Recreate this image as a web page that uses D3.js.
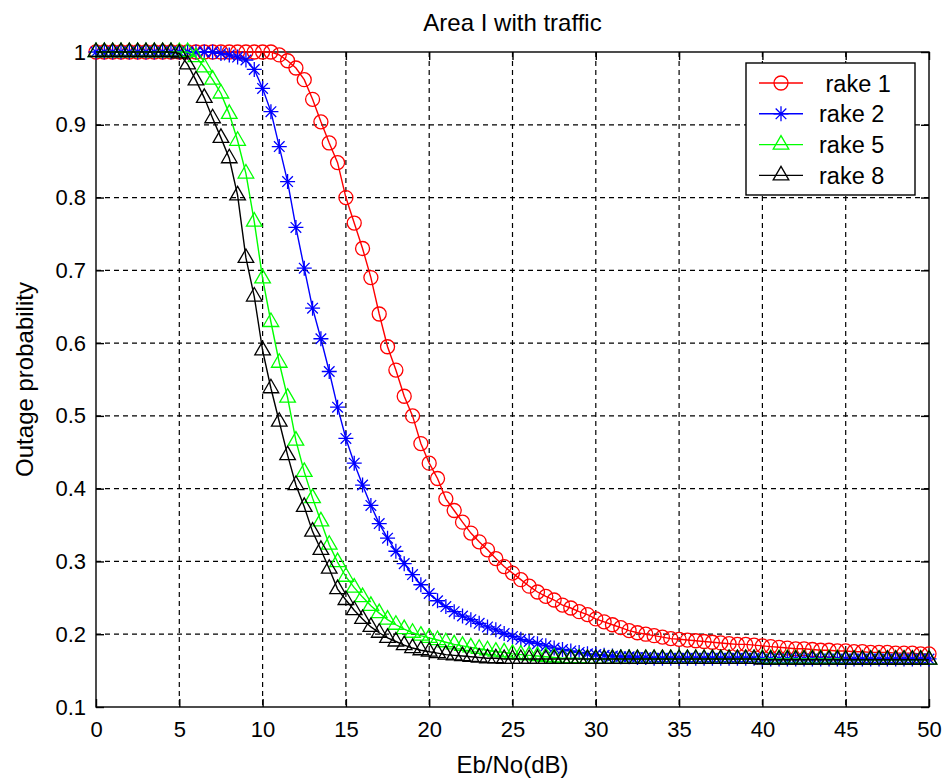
<!DOCTYPE html>
<html>
<head>
<meta charset="utf-8">
<script src="https://cdn.jsdelivr.net/npm/d3@7"></script>
<style>
  body { margin: 0; background: #fff; }
  svg text { font-family: "Liberation Sans", Arial, sans-serif; fill: #000; }
</style>
</head>
<body>
<svg id="chart" width="942" height="780"></svg>
<script>
// Eb/No grid (dB), one marker every 0.5 dB
const ebno = [
  0, 0.5, 1, 1.5, 2, 2.5, 3, 3.5, 4, 4.5,
  5, 5.5, 6, 6.5, 7, 7.5, 8, 8.5, 9, 9.5,
  10, 10.5, 11, 11.5, 12, 12.5, 13, 13.5, 14, 14.5,
  15, 15.5, 16, 16.5, 17, 17.5, 18, 18.5, 19, 19.5,
  20, 20.5, 21, 21.5, 22, 22.5, 23, 23.5, 24, 24.5,
  25, 25.5, 26, 26.5, 27, 27.5, 28, 28.5, 29, 29.5,
  30, 30.5, 31, 31.5, 32, 32.5, 33, 33.5, 34, 34.5,
  35, 35.5, 36, 36.5, 37, 37.5, 38, 38.5, 39, 39.5,
  40, 40.5, 41, 41.5, 42, 42.5, 43, 43.5, 44, 44.5,
  45, 45.5, 46, 46.5, 47, 47.5, 48, 48.5, 49, 49.5,
  50
];

const rake1 = [
  1, 1, 1, 1, 1, 1, 1, 1, 1, 1,
  1, 1, 1, 1, 1, 1, 1, 1, 1, 1,
  1, 1, 0.996, 0.988, 0.978, 0.962, 0.935, 0.904, 0.875, 0.848,
  0.800, 0.765, 0.730, 0.690, 0.640, 0.595, 0.563, 0.527, 0.500, 0.462,
  0.435, 0.414, 0.386, 0.370, 0.354, 0.339, 0.327, 0.316, 0.304, 0.293,
  0.284, 0.275, 0.266, 0.258, 0.252, 0.247, 0.240, 0.236, 0.231, 0.227,
  0.221, 0.217, 0.213, 0.209, 0.205, 0.202, 0.200, 0.198, 0.196, 0.194,
  0.193, 0.192, 0.191, 0.190, 0.189, 0.188, 0.187, 0.186, 0.186, 0.185,
  0.184, 0.183, 0.182, 0.181, 0.180, 0.180, 0.179, 0.178, 0.178, 0.177,
  0.177, 0.176, 0.176, 0.175, 0.175, 0.175, 0.174, 0.174, 0.174, 0.173,
  0.173
];

const rake2 = [
  1, 1, 1, 1, 1, 1, 1, 1, 1, 1,
  1, 1, 1, 1, 1, 0.998, 0.996, 0.993, 0.989, 0.976,
  0.950, 0.918, 0.870, 0.822, 0.759, 0.703, 0.648, 0.606, 0.561, 0.512,
  0.469, 0.435, 0.405, 0.377, 0.352, 0.332, 0.314, 0.297, 0.282, 0.268,
  0.256, 0.246, 0.238, 0.231, 0.225, 0.220, 0.215, 0.210, 0.206, 0.201,
  0.197, 0.193, 0.190, 0.187, 0.184, 0.181, 0.179, 0.177, 0.175, 0.173,
  0.172, 0.171, 0.170, 0.169, 0.169, 0.168, 0.168, 0.167, 0.167, 0.167,
  0.167, 0.167, 0.167, 0.167, 0.167, 0.167, 0.167, 0.167, 0.167, 0.167,
  0.166, 0.166, 0.166, 0.166, 0.166, 0.166, 0.166, 0.166, 0.166, 0.166,
  0.166, 0.166, 0.166, 0.166, 0.166, 0.166, 0.166, 0.166, 0.166, 0.166,
  0.166
];

const rake5 = [
  1, 1, 1, 1, 1, 1, 1, 1, 1, 1,
  1, 1, 0.993, 0.979, 0.962, 0.943, 0.915, 0.878, 0.833, 0.767,
  0.689, 0.629, 0.573, 0.525, 0.466, 0.423, 0.387, 0.355, 0.323, 0.299,
  0.279, 0.264, 0.251, 0.239, 0.229, 0.220, 0.213, 0.207, 0.202, 0.198,
  0.195, 0.192, 0.189, 0.186, 0.184, 0.182, 0.180, 0.178, 0.176, 0.175,
  0.173, 0.172, 0.171, 0.170, 0.169, 0.168, 0.167, 0.167, 0.167, 0.166,
  0.166, 0.166, 0.166, 0.166, 0.166, 0.166, 0.166, 0.166, 0.166, 0.166,
  0.166, 0.166, 0.166, 0.166, 0.166, 0.166, 0.166, 0.166, 0.166, 0.166,
  0.166, 0.166, 0.166, 0.166, 0.166, 0.166, 0.166, 0.166, 0.166, 0.166,
  0.165, 0.165, 0.165, 0.165, 0.165, 0.165, 0.165, 0.165, 0.165, 0.165,
  0.165
];

const rake8 = [
  1, 1, 1, 1, 1, 1, 1, 1, 1, 1,
  0.998, 0.983, 0.961, 0.937, 0.909, 0.882, 0.854, 0.803, 0.717, 0.664,
  0.590, 0.538, 0.492, 0.446, 0.405, 0.375, 0.341, 0.316, 0.290, 0.262,
  0.247, 0.233, 0.221, 0.210, 0.202, 0.195, 0.190, 0.185, 0.181, 0.178,
  0.176, 0.174, 0.172, 0.171, 0.170, 0.169, 0.168, 0.167, 0.167, 0.166,
  0.166, 0.166, 0.166, 0.166, 0.166, 0.166, 0.166, 0.166, 0.166, 0.166,
  0.166, 0.166, 0.166, 0.166, 0.166, 0.166, 0.166, 0.166, 0.166, 0.166,
  0.166, 0.166, 0.166, 0.166, 0.166, 0.166, 0.166, 0.166, 0.166, 0.166,
  0.165, 0.165, 0.165, 0.165, 0.165, 0.165, 0.165, 0.165, 0.165, 0.165,
  0.165, 0.165, 0.165, 0.165, 0.165, 0.165, 0.165, 0.165, 0.165, 0.165,
  0.165
];

const xTicks = [0, 5, 10, 15, 20, 25, 30, 35, 40, 45, 50];
const yTicks = [0.1, 0.2, 0.3, 0.4, 0.5, 0.6, 0.7, 0.8, 0.9, 1];
const seriesNames = [" rake 1", "rake 2", "rake 5", "rake 8"];
const seriesColors = ["#ff0000", "#0000ff", "#00ff00", "#000000"];
const seriesMarkers = ["circle", "star", "triangle", "triangle"];

const svg = d3.select("#chart");
const plotLeft = 96, plotRight = 929, plotTop = 52, plotBottom = 707;

const x = d3.scaleLinear().domain([0, 50]).range([plotLeft, plotRight]);
const y = d3.scaleLinear().domain([0.1, 1]).range([plotBottom, plotTop]);

svg.append("rect").attr("width", 942).attr("height", 780).attr("fill", "#fff");

// dashed grid
const grid = svg.append("g")
  .attr("stroke", "#000")
  .attr("stroke-width", 1.2)
  .attr("stroke-dasharray", "5,4");
grid.selectAll("line.gx")
  .data(xTicks.slice(1, -1))
  .join("line")
  .attr("x1", d => x(d)).attr("x2", d => x(d))
  .attr("y1", plotTop).attr("y2", plotBottom);
grid.selectAll("line.gy")
  .data(yTicks.slice(1, -1))
  .join("line")
  .attr("y1", d => y(d)).attr("y2", d => y(d))
  .attr("x1", plotLeft).attr("x2", plotRight);

// axes, ticks pointing inward on all four sides
function styleAxis(g) {
  g.select(".domain").remove();
  g.selectAll(".tick line").attr("stroke", "#000").attr("stroke-width", 1.4);
  g.selectAll(".tick text")
    .style("font-family", '"Liberation Sans", Arial, sans-serif')
    .style("font-size", "22px")
    .attr("fill", "#000");
}

svg.append("g")
  .attr("transform", `translate(0,${plotBottom})`)
  .call(d3.axisBottom(x).tickValues(xTicks).tickSizeInner(-8).tickSizeOuter(0).tickPadding(14))
  .call(styleAxis);
svg.append("g")
  .attr("transform", `translate(0,${plotTop})`)
  .call(d3.axisTop(x).tickValues(xTicks).tickSizeInner(-8).tickSizeOuter(0).tickFormat(""))
  .call(styleAxis);
svg.append("g")
  .attr("transform", `translate(${plotLeft},0)`)
  .call(d3.axisLeft(y).tickValues(yTicks).tickSizeInner(-8).tickSizeOuter(0).tickPadding(10)
    .tickFormat(d => d === 1 ? "1" : d3.format(".1f")(d)))
  .call(styleAxis);
svg.append("g")
  .attr("transform", `translate(${plotRight},0)`)
  .call(d3.axisRight(y).tickValues(yTicks).tickSizeInner(-8).tickSizeOuter(0).tickFormat(""))
  .call(styleAxis);

svg.append("rect")
  .attr("x", plotLeft).attr("y", plotTop)
  .attr("width", plotRight - plotLeft).attr("height", plotBottom - plotTop)
  .attr("fill", "none").attr("stroke", "#000").attr("stroke-width", 1.4);

// marker glyphs
const markerPath = {
  circle: "M-7,0a7,7 0 1,0 14,0a7,7 0 1,0 -14,0",
  star: "M-7.5,0H7.5M0,-7.5V7.5M-5.3,-5.3L5.3,5.3M-5.3,5.3L5.3,-5.3",
  triangle: "M0,-9L7.8,4.5H-7.8Z"
};

const allSeries = [rake1, rake2, rake5, rake8];
const line = d3.line().x(d => x(d[0])).y(d => y(d[1]));

allSeries.forEach((vals, k) => {
  const pts = ebno.map((e, i) => [e, vals[i]]);
  const g = svg.append("g");
  g.append("path")
    .datum(pts)
    .attr("fill", "none")
    .attr("stroke", seriesColors[k])
    .attr("stroke-width", 1.4)
    .attr("d", line);
  g.selectAll("path.mk")
    .data(pts)
    .join("path")
    .attr("class", "mk")
    .attr("transform", d => `translate(${x(d[0])},${y(d[1])})`)
    .attr("d", markerPath[seriesMarkers[k]])
    .attr("fill", "none")
    .attr("stroke", seriesColors[k])
    .attr("stroke-width", 1.3);
});

// legend
const lg = svg.append("g");
lg.append("rect")
  .attr("x", 746).attr("y", 63).attr("width", 169).attr("height", 132)
  .attr("fill", "#fff").attr("stroke", "#000").attr("stroke-width", 1.4);
seriesNames.forEach((name, k) => {
  const ly = 83 + k * 30.8;
  lg.append("line")
    .attr("x1", 759).attr("x2", 803).attr("y1", ly).attr("y2", ly)
    .attr("stroke", seriesColors[k]).attr("stroke-width", 1.4);
  lg.append("path")
    .attr("transform", `translate(781,${ly})`)
    .attr("d", markerPath[seriesMarkers[k]])
    .attr("fill", "none").attr("stroke", seriesColors[k]).attr("stroke-width", 1.3);
  lg.append("text")
    .attr("x", 819).attr("y", ly + 8.5)
    .style("font-size", "23.5px")
    .style("white-space", "pre")
    .text(name);
});

// title and axis labels
svg.append("text")
  .attr("x", (plotLeft + plotRight) / 2).attr("y", 30.5)
  .attr("text-anchor", "middle")
  .style("font-size", "24px")
  .text("Area I with traffic");

svg.append("text")
  .attr("x", (plotLeft + plotRight) / 2).attr("y", 773)
  .attr("text-anchor", "middle")
  .style("font-size", "24px")
  .text("Eb/No(dB)");

svg.append("text")
  .attr("transform", `translate(33,${(plotTop + plotBottom) / 2}) rotate(-90)`)
  .attr("text-anchor", "middle")
  .style("font-size", "24px")
  .text("Outage probability");
</script>
</body>
</html>
